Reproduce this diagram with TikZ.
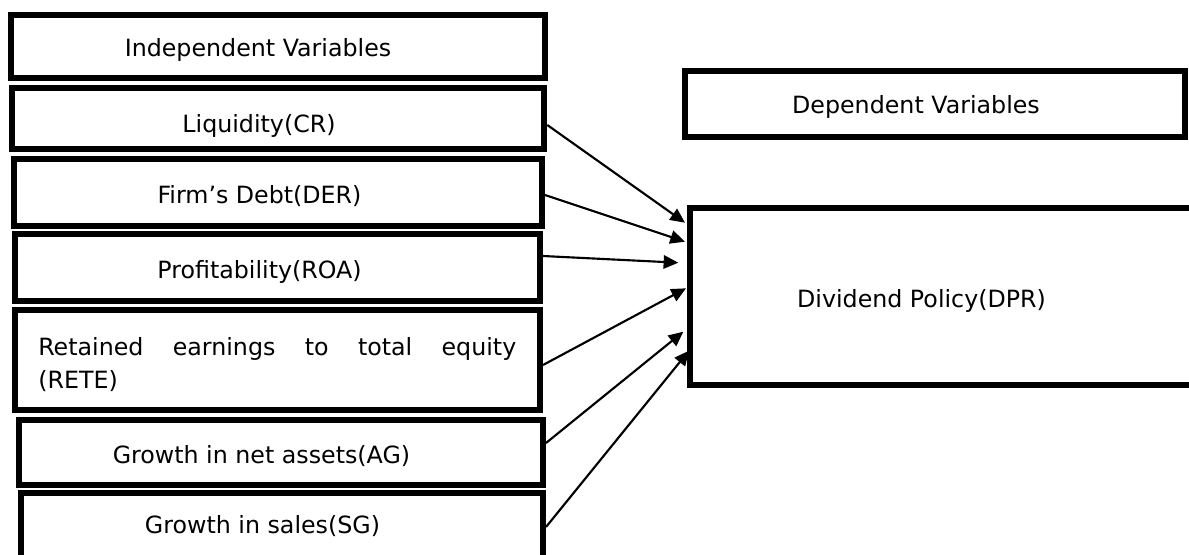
\documentclass[tikz,border=0pt]{standalone}
\usepackage{fontspec}
\setmainfont{DejaVu Sans}
\usetikzlibrary{arrows.meta}
\begin{document}
\begin{tikzpicture}[x=0.75pt,y=-0.75pt,
  box/.style={draw=black,line width=4.5pt,inner sep=0pt,fill=white},
  lbl/.style={font=\fontsize{17.8pt}{24pt}\selectfont,anchor=base,inner sep=0pt},
  arr/.style={line width=1.6pt,-{Triangle[length=11pt,width=10pt]}}]
\useasboundingbox (0,0) rectangle (1189,554);
\clip (0,0) rectangle (1189,554);
\fill[white] (0,0) rectangle (1189,554);
% left boxes
\node[box,minimum width=400.5pt,minimum height=47.25pt] (ind) at (278,46.5) {};
\node[box,minimum width=399pt,minimum height=45.5pt] (liq) at (278.3,118.35) {};
\node[box,minimum width=396pt,minimum height=50.25pt] (der) at (278,192.5) {};
\node[box,minimum width=393.4pt,minimum height=50.25pt] (roa) at (277.75,267.5) {};
\node[box,minimum width=393.4pt,minimum height=75pt] (rete) at (277.75,360) {};
\node[box,minimum width=393pt,minimum height=48.75pt] (ag) at (281,452.5) {};
\node[box,minimum width=391.5pt,minimum height=57.75pt] (sg) at (282,531.5) {};
% right boxes
\node[box,minimum width=375pt,minimum height=49.5pt] (dep) at (935,104) {};
\node[box,minimum width=382.5pt,minimum height=132.75pt] (div) at (945,296.5) {};
% labels
\node[lbl] (indt) at (258,56) {Independent Variables};
\node[lbl] (liqt) at (259,132) {Liquidity(CR)};
\node[lbl] (dert) at (259.5,203) {Firm’s Debt(DER)};
\node[lbl] (roat) at (259.5,278) {Profitability(ROA)};
\node[lbl,anchor=base west] (retet1) at (38,355) {\makebox[358.5pt][s]{Retained earnings to total equity}};
\node[lbl,anchor=base west] (retet2) at (38,388) {(RETE)};
\node[lbl] (agt) at (261.5,463) {Growth in net assets(AG)};
\node[lbl] (sgt) at (262.5,533) {Growth in sales(SG)};
\node[lbl] (dept) at (916,113) {Dependent Variables};
\node[lbl] (divt) at (921.5,307) {Dividend Policy(DPR)};
% arrow tips
\coordinate (t1) at (685,222.7);
\coordinate (t2) at (685,241.7);
\coordinate (t3) at (678.3,262.7);
\coordinate (t4) at (686,288.3);
\coordinate (t5) at (683.3,331.7);
\coordinate (t6) at (689,350.7);
\draw[arr] (liq.east |- 0,125) -- (t1);
\draw[arr] (der.east |- 0,195) -- (t2);
\draw[arr] (roa.east |- 0,256) -- (t3);
\draw[arr] (rete.east |- 0,365) -- (t4);
\draw[arr] (ag.east |- 0,443) -- (t5);
\draw[arr] (sg.east |- 0,527) -- (t6);
\end{tikzpicture}
\end{document}
